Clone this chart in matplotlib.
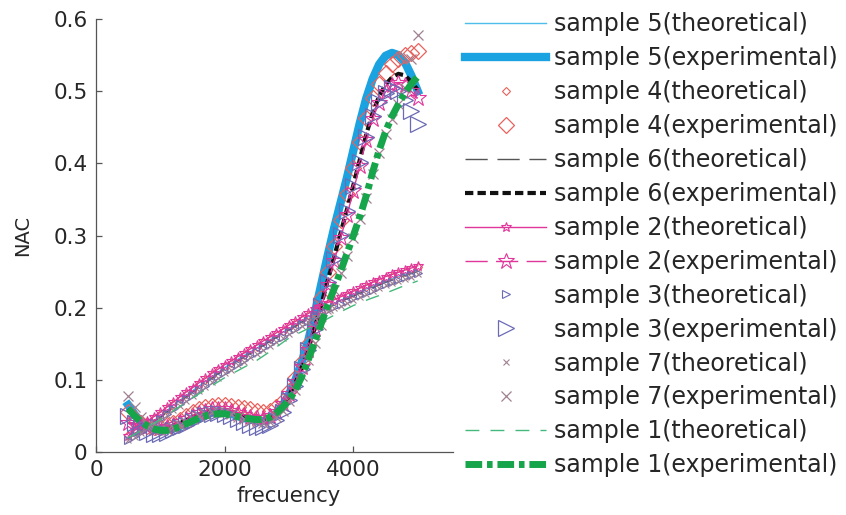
import matplotlib
matplotlib.use("Agg")
import matplotlib.pyplot as plt

plt.rcParams["font.family"] = ["DejaVu Sans"]

# frequency grids (Hz)
freq = [500, 600, 700, 800, 900, 1000, 1100, 1200, 1300, 1400,
        1500, 1600, 1700, 1800, 1900, 2000, 2100, 2200, 2300, 2400,
        2500, 2600, 2700, 2800, 2900, 3000, 3100, 3200, 3300, 3400,
        3500, 3600, 3700, 3800, 3900, 4000, 4100, 4200, 4300, 4400,
        4500, 4600, 4700, 4800, 4900, 5000]
freq_coarse = [500, 750, 1000, 1250, 1500, 1750, 2000, 2250, 2500, 2750,
               3000, 3250, 3500, 3750, 4000, 4250, 4500, 4750, 5000]

# theoretical curves (NAC)
s5_theo = [.020, .034, .050, .068, .085, .101, .117, .131, .144, .158,
           .171, .185, .198, .208, .218, .228, .237, .245, .252]
s6_theo = [.019, .033, .048, .066, .083, .099, .115, .129, .142, .156,
           .169, .183, .196, .206, .216, .226, .235, .243, .250]
s1_theo = [.020, .032, .045, .060, .075, .089, .103, .115, .127, .142,
           .158, .169, .180, .192, .203, .212, .220, .229, .237]
s4_theo = [.023, .029, .035, .041, .047, .053, .060, .067, .074, .081,
           .087, .094, .100, .107, .113, .119, .124, .130, .135, .141,
           .146, .152, .157, .163, .168, .174, .179, .185, .190, .196,
           .201, .205, .209, .213, .217, .221, .225, .229, .233, .237,
           .241, .244, .247, .250, .253, .256]
s2_theo = [.022, .030, .037, .043, .049, .055, .062, .069, .076, .083,
           .089, .096, .102, .109, .115, .121, .126, .132, .137, .143,
           .148, .154, .159, .165, .170, .176, .181, .187, .192, .198,
           .203, .207, .211, .215, .219, .223, .227, .231, .235, .239,
           .243, .246, .249, .252, .255, .258]
s3_theo = [.017, .022, .028, .034, .040, .046, .053, .059, .066, .073,
           .079, .086, .092, .099, .105, .111, .116, .122, .127, .133,
           .138, .144, .149, .155, .160, .166, .171, .177, .182, .188,
           .193, .197, .201, .205, .209, .213, .217, .221, .225, .229,
           .233, .236, .239, .242, .245, .248]
s7_theo = [.016, .021, .027, .033, .039, .045, .051, .058, .064, .071,
           .077, .084, .090, .097, .103, .109, .114, .120, .125, .131,
           .136, .142, .147, .153, .158, .164, .169, .175, .180, .186,
           .191, .195, .199, .203, .207, .211, .215, .219, .223, .227,
           .231, .234, .237, .240, .243, .246]

# experimental curves (NAC)
s5_exp = [.065, .052, .042, .035, .031, .030, .031, .033, .036, .040,
          .044, .048, .052, .055, .056, .055, .053, .050, .047, .045,
          .043, .043, .046, .053, .064, .080, .100, .125, .155, .192,
          .232, .272, .310, .345, .380, .418, .456, .490, .517, .537,
          .549, .553, .550, .540, .522, .500]
s4_exp = [.055, .046, .040, .036, .034, .035, .037, .040, .045, .050,
          .055, .059, .062, .064, .065, .065, .064, .063, .061, .059,
          .057, .056, .057, .062, .071, .085, .103, .125, .150, .180,
          .214, .250, .286, .322, .358, .394, .430, .463, .490, .510,
          .525, .537, .545, .550, .553, .556]
s6_exp = [.060, .048, .040, .034, .031, .031, .033, .036, .040, .044,
          .048, .052, .055, .057, .058, .057, .055, .052, .049, .046,
          .044, .044, .047, .053, .063, .078, .096, .118, .143, .172,
          .204, .237, .270, .303, .336, .370, .405, .440, .470, .493,
          .509, .519, .524, .522, .513, .502]
s2_exp = [.040, .038, .036, .034, .033, .033, .035, .038, .042, .046,
          .050, .054, .057, .059, .060, .059, .057, .054, .051, .049,
          .047, .047, .050, .056, .066, .080, .097, .118, .142, .170,
          .200, .232, .264, .296, .328, .362, .397, .432, .462, .484,
          .499, .508, .511, .508, .500, .490]
s3_exp = [.050, .040, .033, .028, .025, .025, .027, .030, .034, .038,
          .043, .047, .051, .053, .054, .053, .050, .046, .042, .038,
          .035, .034, .037, .044, .056, .072, .092, .115, .141, .170,
          .202, .235, .268, .301, .334, .368, .402, .436, .465, .485,
          .498, .504, .500, .488, .472, .455]
s7_exp = [.078, .062, .048, .038, .032, .030, .031, .034, .038, .042,
          .046, .050, .053, .055, .056, .055, .052, .049, .046, .043,
          .041, .040, .042, .048, .057, .070, .086, .105, .127, .151,
          .176, .200, .224, .248, .272, .297, .323, .352, .385, .414,
          .440, .462, .482, .505, .545, .578]
s1_exp = [.060, .050, .042, .036, .032, .030, .030, .032, .035, .039,
          .043, .047, .050, .052, .053, .053, .051, .049, .047, .046,
          .045, .045, .048, .054, .062, .072, .086, .105, .128, .153,
          .178, .203, .226, .250, .275, .300, .326, .355, .388, .418,
          .444, .465, .482, .497, .510, .520]

CYAN = "#1aa3e0"
RED = "#e8625e"
PINK = "#e0359a"
SLATE = "#6b6bb5"
MAUVE = "#a08090"
GREEN = "#16a54a"
GREEN_L = "#45b97c"
TEXT = "#262626"

fig = plt.figure(figsize=(8.46, 5.15), dpi=100)
ax = fig.add_axes([0.1135, 0.1223, 0.4563, 0.8408])

ax.plot(freq_coarse, s5_theo, color="#4fbde9", lw=1.0,
        label="sample 5(theoretical)")
ax.plot(freq, s5_exp, color=CYAN, lw=6,
        label="sample 5(experimental)")
ax.plot(freq, s4_theo, ls="none", marker="D", ms=4.5, mfc="none",
        mec=RED, mew=0.8, label="sample 4(theoretical)")
ax.plot(freq, s4_exp, ls="none", marker="D", ms=8.5, mfc="none",
        mec=RED, mew=0.9, label="sample 4(experimental)")
ax.plot(freq_coarse, s6_theo, color="#555555", lw=1.0, dashes=(16, 7),
        label="sample 6(theoretical)")
ax.plot(freq, s6_exp, color="#111111", lw=3, dashes=(2, 1),
        label="sample 6(experimental)")
ax.plot(freq, s2_theo, color=PINK, lw=1.0, marker="*", ms=7, mfc="none",
        mew=0.8, label="sample 2(theoretical)")
ax.plot(freq, s2_exp, color=PINK, lw=1.0, dashes=(16, 6), marker="*",
        ms=12, mfc="none", mew=0.8, label="sample 2(experimental)")
ax.plot(freq, s3_theo, ls="none", marker=">", ms=5.5, mfc="none",
        mec=SLATE, mew=0.8, label="sample 3(theoretical)")
ax.plot(freq, s3_exp, ls="none", marker=">", ms=12, mfc="none",
        mec=SLATE, mew=0.9, label="sample 3(experimental)")
ax.plot(freq, s7_theo, ls="none", marker="x", ms=4.5, mec=MAUVE, mew=0.8,
        label="sample 7(theoretical)")
ax.plot(freq, s7_exp, ls="none", marker="x", ms=7.5, mec=MAUVE, mew=0.9,
        label="sample 7(experimental)")
ax.plot(freq_coarse, s1_theo, color=GREEN_L, lw=1.0, dashes=(10, 8),
        label="sample 1(theoretical)")
ax.plot(freq, s1_exp, color=GREEN, lw=5, dashes=(2.4, 0.7, 0.8, 0.7),
        label="sample 1(experimental)")

ax.set_xlim(0, 6000)
ax.set_ylim(0, 0.6)
ax.set_xticks([0, 2000, 4000])
ax.set_yticks([0, 0.1, 0.2, 0.3, 0.4, 0.5, 0.6])
ax.set_yticklabels(["0", "0.1", "0.2", "0.3", "0.4", "0.5", "0.6"])
for side in ("top", "right"):
    ax.spines[side].set_visible(False)
for side in ("left", "bottom"):
    ax.spines[side].set_color("#555555")
    ax.spines[side].set_linewidth(0.9)
ax.spines["bottom"].set_bounds(0, 5550)
ax.tick_params(direction="in", length=4, width=0.9, color="#555555",
               labelsize=15.5, labelcolor=TEXT, pad=6)
ax.set_xlabel("frecuency", fontsize=15.3, color=TEXT, labelpad=4)
ax.set_ylabel("NAC", fontsize=14, color=TEXT, labelpad=15)

fig.legend(loc="upper left", bbox_to_anchor=(465 / 846, 0.976),
           frameon=False, borderpad=0, borderaxespad=0, fontsize=17,
           handlelength=3.45, handletextpad=0.34, labelspacing=0.42,
           numpoints=1, labelcolor=TEXT)

fig.savefig("out.png", dpi=100)
